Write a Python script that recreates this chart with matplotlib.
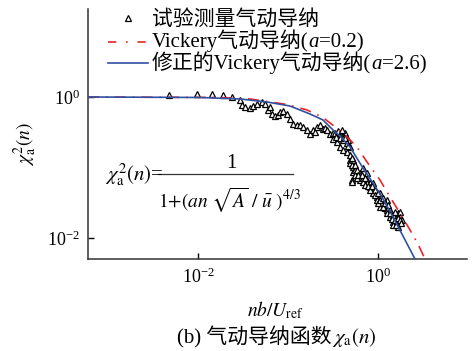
import numpy as np
import matplotlib
matplotlib.use("Agg")
import matplotlib.pyplot as plt
from matplotlib.lines import Line2D

plt.rcParams["font.family"] = ["Liberation Serif", "Noto Sans CJK SC"]
plt.rcParams["mathtext.fontset"] = "stix"
plt.rcParams["lines.scale_dashes"] = False

meas_lgx = [-2.322, -2.011, -1.844, -1.722, -1.622, -1.533, -1.511, -1.478, -1.422, -1.389,
            -1.344, -1.289, -1.256, -1.222, -1.2, -1.178, -1.144, -1.111, -1.089, -1.056,
            -1.011, -0.978, -0.944, -0.9, -0.867, -0.833, -0.789, -0.756, -0.722, -0.7,
            -0.678, -0.644, -0.611, -0.589, -0.567, -0.533, -0.5, -0.5, -0.456, -0.444,
            -0.422, -0.422, -0.389, -0.389, -0.389, -0.367, -0.344, -0.344, -0.333, -0.311,
            -0.311, -0.311, -0.289, -0.289, -0.278, -0.278, -0.278, -0.256, -0.2, -0.2,
            -0.2, -0.167, -0.167, -0.122, -0.122, -0.122, -0.089, -0.089, -0.056, -0.056,
            -0.056, -0.011, -0.011, 0.022, 0.022, 0.044, 0.078, 0.1, 0.1, 0.133,
            0.133, 0.167, 0.167, 0.167, 0.222, 0.222, 0.244, 0.244, 0.267, 0.222,
            -0.478, -0.467, -0.444, -0.422, -0.4, -0.378, -0.367, -0.344, -0.333, -0.311,
            -0.289, -0.289, -0.256, -0.256, -0.233, -0.233, -0.222, -0.178, -0.167, -0.144,
            -0.144, -0.111, -0.089, -0.067, -0.033, -0.033, 0.0, 0.0, 0.022, 0.056,
            0.056, 0.078, 0.1, 0.111, 0.133, 0.156, 0.189, 0.189, 0.2, 0.222,
            0.244, 0.256]
meas_lgy = [0.028, 0.043, 0.043, 0.028, 0.0, -0.043, -0.113, -0.142, -0.156, -0.128,
            -0.099, -0.071, -0.099, -0.184, -0.142, -0.241, -0.270, -0.255, -0.213, -0.199,
            -0.241, -0.312, -0.383, -0.397, -0.397, -0.426, -0.468, -0.525, -0.468, -0.496,
            -0.426, -0.397, -0.454, -0.440, -0.468, -0.525, -0.596, -0.511, -0.638, -0.582,
            -0.511, -0.709, -0.539, -0.610, -0.752, -0.511, -0.582, -0.780, -0.610, -0.709,
            -0.894, -0.936, -1.177, -1.206, -0.894, -0.993, -1.064, -1.035, -1.078, -1.135,
            -1.177, -1.007, -1.149, -1.078, -1.177, -1.220, -1.220, -1.277, -1.220, -1.319,
            -1.362, -1.418, -1.461, -1.362, -1.560, -1.504, -1.574, -1.461, -1.603, -1.603,
            -1.702, -1.674, -1.773, -1.816, -1.645, -1.787, -1.631, -1.702, -1.745, -1.844,
            -0.511, -0.567, -0.482, -0.582, -0.468, -0.567, -0.582, -0.652, -0.695, -0.823,
            -0.865, -0.965, -0.965, -1.106, -1.035, -1.149, -1.106, -1.106, -1.206, -1.149,
            -1.248, -1.262, -1.319, -1.262, -1.319, -1.390, -1.362, -1.504, -1.461, -1.433,
            -1.560, -1.504, -1.645, -1.532, -1.645, -1.730, -1.631, -1.745, -1.816, -1.716,
            -1.745, -1.787]

# Vickery (a=0.2)
vick_lgx = [-3.222, -1.756, -1.422, -1.011, -0.789, -0.611, -0.389, -0.233, -0.122, 0.022,
            0.133, 0.244, 0.356, 0.444, 0.522]
vick_lgy = [0.0, -0.007, -0.028, -0.106, -0.184, -0.291, -0.511, -0.709, -0.922, -1.177,
            -1.418, -1.645, -1.887, -2.085, -2.298]

# modifiziert (a=2.6)
mod_lgx = [-3.222, -1.978, -1.533, -1.233, -0.978, -0.867, -0.756, -0.611, -0.5, -0.422,
           -0.311, -0.167, -0.056, 0.056, 0.167, 0.278, 0.411]
mod_lgy = [0.0, -0.007, -0.028, -0.071, -0.128, -0.184, -0.241, -0.326, -0.468, -0.553,
           -0.709, -1.007, -1.220, -1.447, -1.702, -1.972, -2.298]

farbe_rot = "#e8262a"
farbe_blau = "#3050a0"
strichpunkt = (8, 5, 1.2, 5)

W, H = 476, 351
fx = lambda px: px / W
fy = lambda py: 1 - py / H

fig = plt.figure(figsize=(W / 100, H / 100), dpi=100)
ax = fig.add_axes([fx(88), fy(259), (467 - 88) / W, (259 - 9) / H])

ax.plot(10 ** np.array(meas_lgx), 10 ** np.array(meas_lgy), linestyle="none", marker="^",
        markersize=3.7, markerfacecolor="white", markeredgecolor="black",
        markeredgewidth=0.9, zorder=2)
ax.plot(10 ** np.array(vick_lgx), 10 ** np.array(vick_lgy), color=farbe_rot,
        linewidth=1.2, dashes=strichpunkt, zorder=3)
ax.plot(10 ** np.array(mod_lgx), 10 ** np.array(mod_lgy), color=farbe_blau,
        linewidth=1.2, zorder=4)

ax.set_xscale("log")
ax.set_yscale("log")
ax.set_xlim(10 ** -3.222, 10 ** 0.989)
ax.set_ylim(10 ** -2.298, 10 ** 1.248)
ax.set_xticks([1e-2, 1e0])
ax.set_yticks([1e-2, 1e0])
ax.minorticks_off()
ax.tick_params(direction="in", length=4, width=1, labelsize=13, pad=6)

for s in ["top", "right"]:
    ax.spines[s].set_visible(False)
for s in ["left", "bottom"]:
    ax.spines[s].set_color("#333333")
    ax.spines[s].set_linewidth(1.1)

renderer = fig.canvas.get_renderer()


def text_stueck(px, py, teile, size, center=False):
    # Textstücke nebeneinander setzen (Grundlinie py)
    objs = []
    for s, stil in teile:
        t = fig.text(fx(px), fy(py), s, fontsize=size, style=stil, ha="left", va="baseline")
        objs.append(t)
    breiten = [t.get_window_extent(renderer).width for t in objs]
    x = px - sum(breiten) / 2 if center else px
    for t, b in zip(objs, breiten):
        t.set_x(fx(x))
        x += b


# Legende von Hand
fig.add_artist(Line2D([fx(128)], [fy(18)], linestyle="none", marker="^", markersize=3.7,
                      markerfacecolor="white", markeredgecolor="black", markeredgewidth=0.9))
fig.add_artist(Line2D([fx(108), fx(148)], [fy(42), fy(42)], color=farbe_rot, linewidth=1.2,
                      dashes=(6, 7, 1.2, 7)))
fig.add_artist(Line2D([fx(108), fx(148)], [fy(63), fy(63)], color=farbe_blau, linewidth=1.2))
text_stueck(152, 25, [("试验测量气动导纳", "normal")], 15)
text_stueck(152, 47, [("Vickery气动导纳(", "normal"), ("a", "italic"), ("=0.2)", "normal")], 15)
text_stueck(152, 69, [("修正的Vickery气动导纳(", "normal"), ("a", "italic"), ("=2.6)", "normal")], 15)

# Formel
fig.text(fx(105), fy(175), r"$\chi_{\rm a}^{2}(n)$=", fontsize=15, ha="left", va="center")
fig.add_artist(Line2D([fx(158), fx(293)], [fy(174), fy(174)], color="#333333", linewidth=0.9))
fig.text(fx(231), fy(163), "1", fontsize=15, ha="center", va="center")
fig.text(fx(230), fy(200), r"$1{+}(an\ \sqrt{A}\ /\ \bar{u}\ )^{4/3}$", fontsize=14,
         ha="center", va="center")

# Achsentitel
fig.text(fx(25), fy(144), r"$\chi_{\rm a}^{2}(n)$", fontsize=14, rotation=90,
         ha="center", va="center")
fig.text(fx(275), fy(310), r"$nb/U_{\rm ref}$", fontsize=14, ha="center", va="center")
text_stueck(277, 343, [("(b) 气动导纳函数", "normal"), (r"$\chi_{\rm a}(n)$", "normal")], 15,
            center=True)

fig.savefig("out.png", dpi=100)
